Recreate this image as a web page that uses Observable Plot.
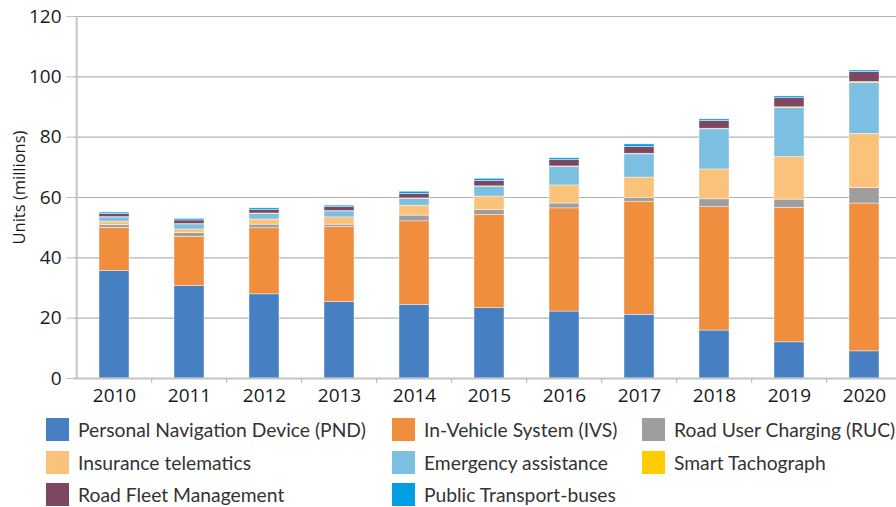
<!DOCTYPE html>
<html>
<head>
<meta charset="utf-8">
<script src="https://cdn.jsdelivr.net/npm/d3@7"></script>
<script src="https://cdn.jsdelivr.net/npm/@observablehq/plot@0.6"></script>
<style>
  html, body { margin: 0; padding: 0; background: #fff; }
  #wrap { width: 896px; height: 507px; overflow: hidden; position: relative; }
  #chart svg, #chart svg text { font-family: "Open Sans", sans-serif !important; }
  #legend { position: absolute; left: 0; top: 418px; width: 896px; font-family: Lato, "Open Sans", sans-serif; font-size: 19.3px; color: #333; }
  .item { position: absolute; display: flex; align-items: center; height: 23px; white-space: nowrap; }
  .sw { width: 23px; height: 23px; margin-right: 9px; flex: none; }
</style>
</head>
<body>
<div id="wrap">
  <div id="chart"></div>
  <div id="legend"></div>
</div>
<script>
const years = ["2010","2011","2012","2013","2014","2015","2016","2017","2018","2019","2020"];
const seriesNames = [
  "Personal Navigation Device (PND)",
  "In-Vehicle System (IVS)",
  "Road User Charging (RUC)",
  "Insurance telematics",
  "Emergency assistance",
  "Smart Tachograph",
  "Road Fleet Management",
  "Public Transport-buses"
];
const colors = ["#467fc2", "#f18e3e", "#9e9e9e", "#fbc27b", "#7cc0e1", "#ffcc00", "#7e4761", "#009fe3"];

const pnd       = [35.6, 30.6, 27.9, 25.3, 24.4, 23.3, 22.2, 21.1, 15.9, 12.0, 9.0];
const ivs       = [14.3, 16.4, 21.9, 24.9, 27.7, 30.9, 34.2, 37.5, 40.9, 44.6, 49.0];
const ruc       = [1.0, 1.2, 1.2, 0.8, 1.9, 1.6, 1.6, 1.2, 2.6, 2.7, 5.1];
const insurance = [1.1, 1.2, 1.7, 2.4, 3.3, 4.5, 6.0, 6.8, 9.9, 14.1, 18.0];
const emergency = [1.4, 1.7, 1.9, 2.0, 2.3, 3.3, 6.2, 7.7, 13.3, 16.2, 16.9];
const tacho     = [0.1, 0.1, 0.1, 0.1, 0.1, 0.1, 0.1, 0.2, 0.2, 0.3, 0.3];
const fleet     = [1.0, 1.2, 1.1, 1.3, 1.5, 1.8, 2.1, 2.3, 2.6, 3.0, 3.3];
const buses     = [0.5, 0.5, 0.6, 0.5, 0.7, 0.7, 0.6, 0.8, 0.5, 0.6, 0.5];

const yTicks = [0, 20, 40, 60, 80, 100, 120];
const yLabel = "Units (millions)";

const seriesValues = [pnd, ivs, ruc, insurance, emergency, tacho, fleet, buses];
const data = [];
seriesNames.forEach((name, i) => {
  years.forEach((yr, j) => data.push({year: yr, series: name, value: seriesValues[i][j]}));
});

const W = 896, H = 410, mL = 73, mR = -9, mT = 16, mB = 32;
const step = (W - mL - mR) / years.length;
const axisGray = "#c4c4c4";

const chart = Plot.plot({
  width: W,
  height: H,
  marginLeft: mL,
  marginRight: mR,
  marginTop: mT,
  marginBottom: mB,
  style: {fontFamily: "'Open Sans', sans-serif", fontSize: "18px", color: "#1a1a1a", background: "transparent"},
  x: {domain: years, paddingInner: 0.6, paddingOuter: 0.3, label: null},
  y: {domain: [0, 120], label: null},
  color: {domain: seriesNames, range: colors},
  marks: [
    Plot.ruleY(yTicks.slice(1), {stroke: "#b3b3b3", strokeWidth: 1.2}),
    Plot.barY(data, {x: "year", y: "value", fill: "series", stroke: "white", strokeWidth: 0.6, strokeOpacity: 0.7}),
    Plot.ruleY([0], {stroke: axisGray, strokeWidth: 2}),
    Plot.ruleX([years[0]], {dx: -step / 2, stroke: axisGray, strokeWidth: 2}),
    Plot.ruleX(years.slice(1), {dx: -step / 2, insetTop: (H - mT - mB), insetBottom: -5, stroke: "#b3b3b3", strokeWidth: 1}),
    Plot.axisY({ticks: yTicks, tickSize: 7, tickPadding: 5, stroke: axisGray, tickFormat: d => d, label: null, fontSize: 19}),
    Plot.axisX({tickSize: 0, tickPadding: 10, label: null, fontSize: 19}),
    Plot.text([yLabel], {frameAnchor: "left", dx: -54, dy: -10, rotate: -90, text: d => d, fontSize: 16.5, fill: "#1a1a1a", textAnchor: "middle"})
  ]
});
document.getElementById("chart").appendChild(chart);

// legend
const legend = document.getElementById("legend");
const colX = [46, 392, 642];
const rowY = [0, 32.5, 65];
seriesNames.forEach((name, i) => {
  const col = i % 3, row = Math.floor(i / 3);
  const item = document.createElement("div");
  item.className = "item";
  item.style.left = colX[col] + "px";
  item.style.top = rowY[row] + "px";
  const sw = document.createElement("span");
  sw.className = "sw";
  sw.style.background = colors[i];
  const t = document.createElement("span");
  t.textContent = name;
  item.appendChild(sw);
  item.appendChild(t);
  legend.appendChild(item);
});
</script>
</body>
</html>
